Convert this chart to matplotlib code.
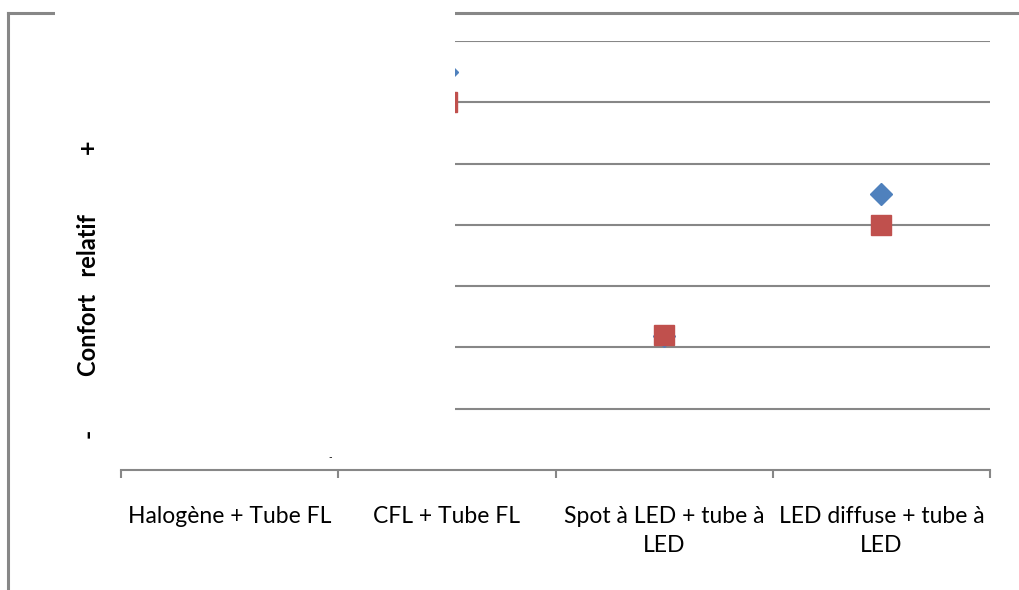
import numpy as np
import matplotlib
matplotlib.use('Agg')
import matplotlib.pyplot as plt
from matplotlib.patches import Rectangle
from matplotlib.lines import Line2D

# ── Données ────────────────────────────────────────────────
categories = ['Halogène + Tube FL', 'CFL + Tube FL',
              'Spot à LED + tube à\nLED', 'LED diffuse + tube à\nLED']
serie_bleue = [np.nan, 6.5, 2.18, 4.5]
serie_rouge = [np.nan, 6.0, 2.2, 4.0]
y_max = 7

GRIS = '#878787'
plt.rcParams['font.family'] = ['Lato', 'DejaVu Sans']

fig = plt.figure(figsize=(10.19, 5.9), dpi=100)
ax = fig.add_axes([121/1019, 120/590, 869/1019, 429/590])

x = np.arange(len(categories)) + 0.5
ax.plot(x, serie_bleue, ls='none', marker='D', ms=11, color='#4F81BD', zorder=3, clip_on=False)
ax.plot(x, serie_rouge, ls='none', marker='s', ms=15, color='#C0504D', zorder=4, clip_on=False)

ax.set_xlim(0, len(categories))
ax.set_ylim(0, y_max)
ax.set_yticks(range(1, y_max + 1))
ax.yaxis.grid(True, color=GRIS, lw=1.5)
ax.set_axisbelow(True)
ax.tick_params(axis='y', left=False, labelleft=False)

ax.set_xticks(range(len(categories) + 1))
ax.set_xticklabels([])
ax.set_xticks(x, minor=True)
ax.set_xticklabels(categories, minor=True, fontsize=16.5, color='black', linespacing=1.45)
ax.tick_params(axis='x', which='major', direction='out', length=6, color=GRIS, width=1.5)
ax.tick_params(axis='x', which='minor', length=0, pad=26)
for lab in ax.get_xticklabels(minor=True):
    lab.set_verticalalignment('top')
    lab.set_multialignment('center')

for s in ['left', 'right', 'top']:
    ax.spines[s].set_visible(False)
ax.spines['bottom'].set_color(GRIS)
ax.spines['bottom'].set_linewidth(1.5)

# cadre extérieur
fig.add_artist(Line2D([8/1019, 8/1019], [0, 1 - 13/590], color=GRIS, lw=2.2, zorder=5))
fig.add_artist(Line2D([8/1019, 1], [1 - 13/590, 1 - 13/590], color=GRIS, lw=2.2, zorder=5))

# zone de texte blanche qui masque une partie du graphique
fig.add_artist(Rectangle((55/1019, 1 - 457/590), 400/1019, 457/590,
                         transform=fig.transFigure, facecolor='white',
                         edgecolor='none', zorder=10))

fig.text(88/1019, 1 - 295/590, 'Confort   relatif', rotation=90, fontsize=17,
         fontweight='bold', ha='center', va='center', zorder=11)
fig.text(88/1019, 1 - 147/590, '+', rotation=90, fontsize=18,
         fontweight='bold', ha='center', va='center', zorder=11)
fig.text(88/1019, 1 - 433/590, '-', rotation=90, fontsize=18,
         fontweight='bold', ha='center', va='center', zorder=11)
fig.text(330/1019, 1 - 458/590, '-', fontsize=7, ha='center', va='center', zorder=11)

fig.savefig('out.png', dpi=100)
